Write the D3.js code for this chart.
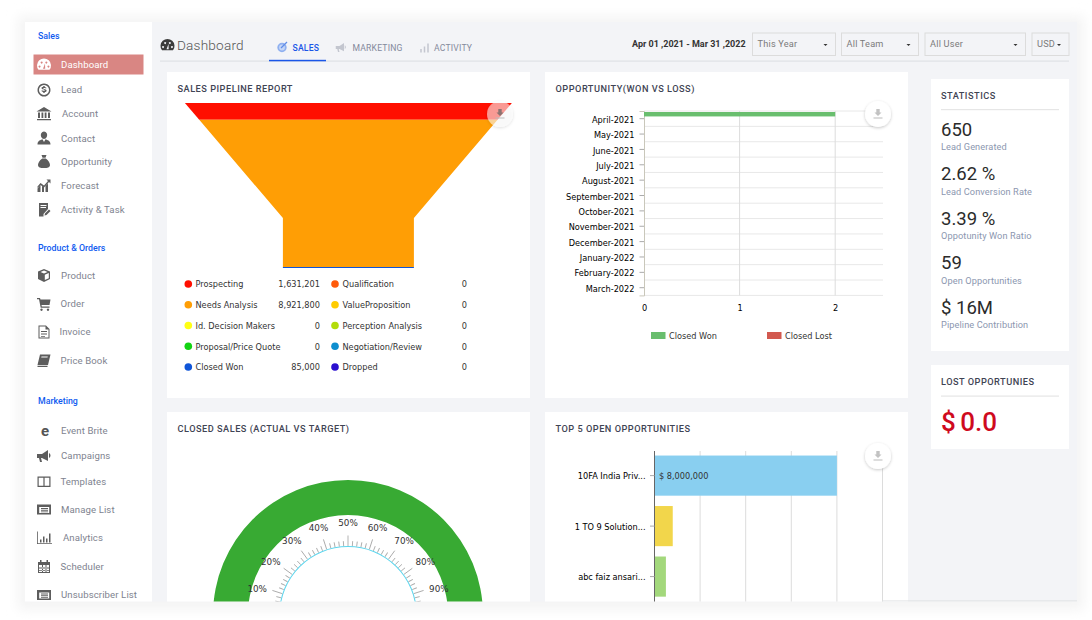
<!DOCTYPE html>
<html>
<head>
<meta charset="utf-8">
<title>Dashboard</title>
<script src="https://cdn.jsdelivr.net/npm/d3@7"></script>
<style>
html, body { margin: 0; padding: 0; background: #fff; overflow: hidden; }
svg { display: block; font-family: Roboto, sans-serif; }
.chartText { font-family: "DejaVu Sans", sans-serif; font-size: 8.2px; fill: #333; }
.cardTitle { font-size: 9.2px; font-weight: 500; letter-spacing: .5px; fill: #3f4454; }
.menu { font-size: 9.6px; fill: #80838f; letter-spacing: .1px; }
.menuHead { font-size: 8.8px; font-weight: 500; fill: #0f5bf0; }
.statVal { font-size: 18.5px; fill: #2b2b2b; }
.statLabel { font-size: 9.2px; fill: #8c97b0; letter-spacing: .1px; }
.axis path { fill: none; }
.axis path, .axis line { stroke: #aaa; }
</style>
</head>
<body>
<svg id="chart" width="1092" height="620"></svg>
<script>
// sidebar
var salesMenu = ["Dashboard", "Lead", "Account", "Contact", "Opportunity", "Forecast", "Activity & Task"];
var productMenu = ["Product", "Order", "Invoice", "Price Book"];
var marketingMenu = ["Event Brite", "Campaigns", "Templates", "Manage List", "Analytics", "Scheduler", "Unsubscriber List"];

// header
var tabs = ["SALES", "MARKETING", "ACTIVITY"];
var dropdowns = ["This Year", "All Team", "All User", "USD"];

// sales pipeline
var stages = ["Prospecting", "Qualification", "Needs Analysis", "ValueProposition", "Id. Decision Makers", "Perception Analysis", "Proposal/Price Quote", "Negotiation/Review", "Closed Won", "Dropped"];
var stageValues = [1631201, 0, 8921800, 0, 0, 0, 0, 0, 85000, 0];
var stageColors = ["#ff0f00", "#ff5a0a", "#ff9e05", "#ffcc00", "#ffff14", "#b3dc0a", "#12d312", "#0d8ecf", "#0f55d8", "#2a0fcf"];
// share of funnel height as drawn, in percent
var funnelStages = ["Prospecting", "Needs Analysis", "Closed Won"];
var funnelShares = [10.2, 89.2, 0.6];

// won vs loss
var months = ["April-2021", "May-2021", "June-2021", "July-2021", "August-2021", "September-2021", "October-2021", "November-2021", "December-2021", "January-2022", "February-2022", "March-2022"];
var closedWon = [2, 0, 0, 0, 0, 0, 0, 0, 0, 0, 0, 0];
var closedLost = [0, 0, 0, 0, 0, 0, 0, 0, 0, 0, 0, 0];

// gauge
var gaugeLabels = [10, 20, 30, 40, 50, 60, 70, 80, 90];
var gaugeValue = 100;

// top open opportunities
var topNames = ["10FA India Priv...", "1 TO 9 Solution...", "abc faiz ansari..."];
var topValues = [8000000, 800000, 500000];
var topColors = ["#89cff0", "#f2d64b", "#a3d87c"];

// statistics
var statValues = ["650", "2.62 %", "3.39 %", "59", "$ 16M"];
var statLabels = ["Lead Generated", "Lead Conversion Rate", "Oppotunity Won Ratio", "Open Opportunities", "Pipeline Contribution"];

var icons = {
	"Dashboard": "M-5.500 4.800A7 7 0 1 1 5.500 4.800ZM-4.500 .5a1 1 0 1 0 .1 0ZM-2.400 -3.500a1 1 0 1 0 .1 0ZM2.300 -3.500a1 1 0 1 0 .1 0ZM4.400 .5a1 1 0 1 0 .1 0ZM-1 3.800L1 -1.500 1.200 3.800Z",
	"Lead": "M0 -6.500A6.500 6.500 0 1 1 -.01 -6.500ZM0 -5A5 5 0 1 0 .01 -5ZM-.7 -4h1.400v1c1 .1 1.700.5 1.800 1.300h-1.400c-.2-.4-1.800-.4-1.800.2 0 .9 3.400.4 3.300 2.200 0 .8-.8 1.200-1.900 1.400V3h-1.400V2c-1.100-.2-1.800-.7-1.900-1.500h1.400c.2.5 2 .5 2-.2 0-.9-3.300-.4-3.300-2.200 0-.8.7-1.200 1.800-1.300Z",
	"Account": "M0 -7L7.500 -2.500H-7.500ZM-6 -1.500H-4V4H-6ZM-2.500 -1.500H-.7V4H-2.500ZM.7 -1.500H2.500V4H.7ZM4 -1.500H6V4H4ZM-7 5H7V6.300H-7Z",
	"Contact": "M0 -7A3.200 3.700 0 1 1 -.01 -7ZM-6.500 6C-6.500 2 -3 1.500 -1.500 .8L0 3.500 1.500 .8C3 1.500 6.500 2 6.500 6Z",
	"Opportunity": "M-2.500 -7L2.500 -7 1.500 -4.300H-1.500ZM-1.800 -3.500H1.800C4.500 -1.500 6 1 6 3 6 5.500 3.500 6 0 6S-6 5.500 -6 3C-6 1 -4.500 -1.500 -1.800 -3.500Z",
	"Forecast": "M-6.500 6V2L-3.500 -1 -3.500 6ZM-2 6V0L0 1.500V6ZM1.500 6V0L4 -2.500V6ZM-6.500 .5L-3.500 -3 0 -.5 4 -5 2.500 -6.500H6.500V-2.500L5 -4 0 1.500 -3.500 -1 -6.500 2.500Z",
	"Activity & Task": "M-5 -7H4V-1L-.5 4V6.500H-5ZM-3.500 -4H2.500V-5H-3.500ZM-3.500 -2H2V-3H-3.500ZM.5 5.500L1 3.500 5 -.5 6.500 1 2.500 5Z",
	"Product": "M0 -6.500L6 -4V3.500L0 6.500 -6 3.500V-4ZM0 -5L-3.500 -3.500 0 -2 3.500 -3.500ZM.8 -.8V4.500L4.800 2.800V-2.500Z",
	"Order": "M-7 -6H-4L-3.500 -4.500H6.500L5.500 1H-2.500L-2.200 2.500H5.500V3.700H-3.300L-5 -4.800H-7ZM-2.500 4.500A1.200 1.200 0 1 1 -2.510 4.500ZM4 4.500A1.200 1.200 0 1 1 3.990 4.500Z",
	"Invoice": "M-5.500 -6.500H2L5.500 -3V6.500H-5.500ZM-4.500 -5.500V5.500H4.500V-2.500H1.500V-5.500ZM-3 -1H3V0H-3ZM-3 1.500H3V2.500H-3ZM-3 4H1V4.700H-3Z",
	"Price Book": "M-4 -6H6.500L4 4.500H-6.500ZM-2.500 -4L-2.800 -3H3.500L3.800 -4ZM-6.500 5.200H3.500V6.500H-6.500Z",
	"Campaigns": "M-7 -2H-2L4 -6V5L-2 2H-3L-2 6H-4L-5 2H-7ZM5 -3C7 -2 7 1 5 2Z",
	"Templates": "M-6.500 -5.500H6.500V5H-6.500ZM-5.300 -4.300V3.800H-.6V-4.300ZM.6 -4.300V3.800H5.300V-4.300Z",
	"Manage List": "M-7 -5H7V5H-7ZM-4.800 -2.500V3.500H5.200V-2.500ZM-3 -1.500H4V-.6H-3ZM-3 .3H4V1.200H-3ZM-3 2H4V2.800H-3Z",
	"Analytics": "M-7 -6.500H-6.200V5.200H8V6H-7ZM-4 1.500H-2.500V4.500H-4ZM-1 -1.500H.5V4.500H-1ZM2 .5H3.500V4.500H2ZM5 -4.500H6.500V4.500H5Z",
	"Scheduler": "M-6 -4.500H-4V-6.500H-2.500V-4.500H2.500V-6.500H4V-4.500H6V6.500H-6ZM-5 -1.500V5.500H5V-1.500ZM-2 -1.500H-1V5.500H-2ZM1.500 -1.500H2.500V5.500H1.500ZM-5 1H5V2H-5ZM-5 3.500H5V4.300H-5Z",
	"Unsubscriber List": "M-7 -5H7V5H-7ZM-4.800 -2.500V3.500H5.200V-2.500ZM-3 -1.500H4V-.6H-3ZM-3 .3H4V1.200H-3ZM-3 2H4V2.800H-3Z"
};

// labels that sit a little off the menu's text column
var menuShift = { "Account": 1, "Invoice": -1.500, "Analytics": 2, "Order": -.5, "Price Book": -.5, "Templates": -.5, "Scheduler": -.5 };

var svg = d3.select("#chart");
var defs = svg.append("defs");

var blur = defs.append("filter").attr("id", "blur").attr("x", "-5%").attr("y", "-5%").attr("width", "110%").attr("height", "110%");
blur.append("feGaussianBlur").attr("stdDeviation", 6);
var soft = defs.append("filter").attr("id", "soft").attr("x", "-40%").attr("y", "-40%").attr("width", "180%").attr("height", "180%");
soft.append("feDropShadow").attr("dx", 0).attr("dy", 1).attr("stdDeviation", 1.500).attr("flood-color", "#000").attr("flood-opacity", .22);
defs.append("clipPath").attr("id", "appClip").append("rect").attr("x", 25).attr("y", 22).attr("width", 1052).attr("height", 579.500);

svg.append("rect").attr("x", 18).attr("y", 16).attr("width", 1066).attr("height", 594).attr("fill", "#f4f4f4").attr("filter", "url(#blur)");

var app = svg.append("g").attr("clip-path", "url(#appClip)");
app.append("rect").attr("x", 25).attr("y", 22).attr("width", 1052).attr("height", 580).attr("fill", "#f3f4f7");

function card(x, y, w, h) {
	app.append("rect").attr("x", x).attr("y", y).attr("width", w).attr("height", h).attr("fill", "#fff");
}

function title(text, x, y) {
	app.append("text").attr("class", "cardTitle").attr("x", x).attr("y", y).text(text);
}

// Sidebar
card(25, 22, 127, 580);
app.append("rect").attr("x", 33.500).attr("y", 54.500).attr("width", 110).attr("height", 20).attr("fill", "#d98683");

function menuBlock(head, headY, items, ys) {
	app.append("text").attr("class", "menuHead").attr("x", 38).attr("y", headY).text(head);
	var row = app.selectAll(null).data(items).enter().append("g")
		.attr("transform", function(d, i) { return "translate(0," + ys[i] + ")"; });
	row.filter(function(d) { return icons[d]; }).append("path")
		.attr("transform", "translate(44,0)")
		.attr("d", function(d) { return icons[d]; })
		.attr("fill-rule", "evenodd")
		.attr("fill", function(d) { return d == "Dashboard" ? "#fff" : "#5d5d5d"; });
	row.append("text").attr("class", "menu").attr("x", function(d) { return 61 + (menuShift[d] || 0); }).attr("dy", "0.35em")
		.style("fill", function(d) { return d == "Dashboard" ? "#fff" : null; })
		.text(function(d) { return d; });
}

menuBlock("Sales", 39, salesMenu, [65, 90, 114, 138.500, 162, 186, 210]);
menuBlock("Product & Orders", 251, productMenu, [275.500, 304, 332, 360.500]);
menuBlock("Marketing", 404, marketingMenu, [431, 456, 482, 509.500, 538, 566.500, 595]);
app.append("text").attr("x", 45).attr("y", 435.500).attr("text-anchor", "middle")
	.attr("font-size", 15).attr("font-weight", 700).attr("fill", "#555").text("e");

// Header
app.append("path").attr("transform", "translate(167.500,45.500)").attr("d", icons["Dashboard"]).attr("fill-rule", "evenodd").attr("fill", "#3c3c3c");
app.append("text").attr("x", 177).attr("y", 50).attr("font-size", 13.600).attr("font-weight", 300).attr("letter-spacing", .2).attr("fill", "#555").text("Dashboard");
app.append("rect").attr("x", 160).attr("y", 60.500).attr("width", 909).attr("height", 1.200).attr("fill", "#dfe1e5");
app.append("rect").attr("x", 269).attr("y", 59.800).attr("width", 57).attr("height", 1.500).attr("fill", "#1a56e8");

var tabX = [292.500, 352.500, 434];
app.selectAll(null).data(tabs).enter().append("text")
	.attr("x", function(d, i) { return tabX[i]; }).attr("y", 50.500)
	.attr("font-size", 8.600).attr("letter-spacing", .2)
	.attr("font-weight", function(d, i) { return i == 0 ? 500 : 400; })
	.attr("fill", function(d, i) { return i == 0 ? "#1a56e8" : "#848a9c"; })
	.text(function(d) { return d; });
// tab icons
app.append("circle").attr("cx", 282).attr("cy", 47.500).attr("r", 3.800).attr("fill", "#c5d6f7").attr("stroke", "#8fb0f0").attr("stroke-width", 1.800);
app.append("path").attr("d", "M281 48L287 42").attr("stroke", "#5f8ce8").attr("stroke-width", 1.200);
app.append("path").attr("transform", "translate(341,47.500) scale(.75)").attr("d", icons["Campaigns"]).attr("fill", "#c3c6cf");
app.append("path").attr("d", "M421 52.500V49M424.500 52.500V46.500M428 52.500V43.500").attr("stroke", "#c3c6cf").attr("stroke-width", 1.500);

app.append("text").attr("x", 632).attr("y", 47).attr("font-size", 9).attr("font-weight", 700).attr("fill", "#333").text("Apr 01 ,2021 - Mar 31 ,2022");

var ddX = [752.500, 841.500, 925, 1032];
var ddW = [83, 77, 100.500, 37];
var dd = app.selectAll(null).data(dropdowns).enter().append("g")
	.attr("transform", function(d, i) { return "translate(" + ddX[i] + ",33)"; });
dd.append("rect").attr("width", function(d, i) { return ddW[i]; }).attr("height", 22.500).attr("fill", "#f3f4f7").attr("stroke", "#dcdcdc");
dd.append("text").attr("x", 5).attr("y", 14).attr("font-size", 9.200).attr("letter-spacing", .2).attr("fill", "#7b7b7b").text(function(d) { return d; });
dd.append("path").attr("transform", function(d, i) { return "translate(" + (ddW[i] - 10) + ",11)"; }).attr("d", "M-2 0H2L0 2Z").attr("fill", "#333");

// Cards
card(167, 72, 363, 326);
card(545, 72, 363, 326);
card(167, 412, 363, 200);
card(545, 412, 363, 200);
card(931, 79, 138, 272);
card(931, 365, 138, 84);

title("SALES PIPELINE REPORT", 177.500, 91.500);
title("OPPORTUNITY(WON VS LOSS)", 555.500, 91.500);
title("CLOSED SALES (ACTUAL VS TARGET)", 177.500, 432);
title("TOP 5 OPEN OPPORTUNITIES", 555.500, 432);

// Funnel
var funnelY = d3.scaleLinear().domain([0, 100]).range([103, 268]);
var funnelCx = 348.400, neckY = 218;
var funnelW = d3.scaleLinear().domain([103, neckY]).range([327, 131]).clamp(true);
var funnelLine = d3.line();
var acc = 0;
funnelShares.forEach(function(s, i) {
	var y0 = funnelY(acc), y1 = funnelY(acc + s);
	acc += s;
	var ys = [y0];
	if (y0 < neckY && y1 > neckY) ys.push(neckY);
	ys.push(y1);
	var left = ys.map(function(y) { return [funnelCx - funnelW(y) / 2, y]; });
	var right = ys.map(function(y) { return [funnelCx + funnelW(y) / 2, y]; }).reverse();
	app.append("path").attr("d", funnelLine(left.concat(right)) + "Z")
		.attr("fill", stageColors[stages.indexOf(funnelStages[i])]);
});

// Funnel legend, two columns
var legendRow = d3.scalePoint().domain(d3.range(5)).range([284, 367]);
var legendCols = [{ dot: 188.300, label: 195.500, value: 320 }, { dot: 335, label: 342.500, value: 467 }];
var numFmt = d3.format(",");
var legend = app.selectAll(null).data(stages).enter().append("g")
	.attr("transform", function(d, i) { return "translate(0," + legendRow(Math.floor(i / 2)) + ")"; });
legend.append("circle").attr("r", 3.800).attr("cx", function(d, i) { return legendCols[i % 2].dot; })
	.attr("fill", function(d, i) { return stageColors[i]; });
legend.append("text").attr("class", "chartText").attr("dy", "0.4em").attr("x", function(d, i) { return legendCols[i % 2].label; })
	.text(function(d) { return d; });
legend.append("text").attr("class", "chartText").attr("dy", "0.4em").attr("text-anchor", "end").attr("x", function(d, i) { return legendCols[i % 2].value; })
	.text(function(d, i) { return numFmt(stageValues[i]); });

// Won vs loss
var oppX = d3.scaleLinear().domain([0, 2.500]).range([644, 883]);
var oppY = d3.scaleBand().domain(months).range([111, 295.400]);
var oppSub = d3.scaleBand().domain(["won", "lost"]).range([1, oppY.bandwidth() - 5.500]);

var oppGrid = app.append("g");
oppGrid.selectAll(null).data(months).enter().append("line")
	.attr("x1", 644).attr("x2", 883)
	.attr("y1", function(d) { return oppY(d) + oppY.bandwidth(); }).attr("y2", function(d) { return oppY(d) + oppY.bandwidth(); })
	.attr("stroke", "#e8e8e8");
oppGrid.append("line").attr("x1", 644).attr("x2", 883).attr("y1", 111).attr("y2", 111).attr("stroke", "#e8e8e8");
oppGrid.selectAll(null).data([1, 2]).enter().append("line")
	.attr("x1", oppX).attr("x2", oppX).attr("y1", 111).attr("y2", 295.400).attr("stroke", "#dcdcdc");

var oppXAxis = d3.axisBottom(oppX).tickValues([0, 1, 2]).tickSize(0).tickPadding(10).tickFormat(d3.format("d"));
var oppYAxis = d3.axisLeft(oppY).tickSize(4.500).tickPadding(5);
app.append("g").attr("class", "axis chartText").attr("transform", "translate(0,295.400)").call(oppXAxis).call(function(g) { g.select(".domain").remove(); });
app.append("g").attr("class", "axis chartText").attr("transform", "translate(644,0)").call(oppYAxis)
	.call(function(g) { g.selectAll("text").attr("dy", "0.5em"); g.select(".domain").style("stroke", "#c9c7ba"); });

app.selectAll(null).data(months).enter().append("rect")
	.attr("x", 644).attr("y", function(d) { return oppY(d) + oppSub("won"); })
	.attr("width", function(d, i) { return oppX(closedWon[i]) - oppX(0); }).attr("height", oppSub.bandwidth())
	.attr("fill", "#69be6e");
app.selectAll(null).data(months).enter().append("rect")
	.attr("x", 644).attr("y", function(d) { return oppY(d) + oppSub("lost"); })
	.attr("width", function(d, i) { return oppX(closedLost[i]) - oppX(0); }).attr("height", oppSub.bandwidth())
	.attr("fill", "#d2594f");

var oppLegend = [["Closed Won", "#69be6e", 651], ["Closed Lost", "#d2594f", 767]];
oppLegend.forEach(function(l) {
	app.append("rect").attr("x", l[2]).attr("y", 332).attr("width", 14.500).attr("height", 7).attr("fill", l[1]);
	app.append("text").attr("class", "chartText").attr("x", l[2] + 18).attr("y", 335.700).attr("dy", "0.4em").text(l[0]);
});

// Gauge
var gaugeCx = 348, gaugeCy = 615;
var gaugeA = d3.scaleLinear().domain([0, 100]).range([-Math.PI / 2, Math.PI / 2]);
var gaugeG = app.append("g").attr("transform", "translate(" + gaugeCx + "," + gaugeCy + ")");
gaugeG.append("path").attr("fill", "#38aa33")
	.attr("d", d3.arc().innerRadius(100).outerRadius(135).startAngle(gaugeA(0)).endAngle(gaugeA(gaugeValue))());
gaugeG.append("path").attr("fill", "#5cd6ee")
	.attr("d", d3.arc().innerRadius(68).outerRadius(69).startAngle(gaugeA(0)).endAngle(gaugeA(100))());
gaugeG.selectAll(null).data(d3.range(0, 101, 2)).enter().append("line")
	.attr("stroke", "#aaa").attr("stroke-width", .9)
	.attr("transform", function(d) { return "rotate(" + (gaugeA(d) * 180 / Math.PI) + ")"; })
	.attr("y1", -69).attr("y2", function(d) { return d % 10 == 0 ? -79.500 : -74; });
gaugeG.selectAll(null).data(gaugeLabels).enter().append("text")
	.attr("class", "chartText").attr("text-anchor", "middle").attr("dy", "0.35em").style("font-size", "8.800px")
	.attr("x", function(d) { return 95.500 * Math.sin(gaugeA(d)); })
	.attr("y", function(d) { return 3 - 95 * Math.cos(gaugeA(d)); })
	.text(function(d) { return d + "%"; });

// Top open opportunities
var topX = d3.scaleLinear().domain([0, 10000000]).range([654.500, 882.500]);
var topY = d3.scaleBand().domain(topNames).range([450.500, 601.700]).paddingInner(.205).paddingOuter(.1);

app.selectAll(null).data(d3.range(2000000, 10000001, 2000000)).enter().append("line")
	.attr("x1", topX).attr("x2", topX).attr("y1", 451).attr("y2", 612).attr("stroke", "#dcdcdc");

app.selectAll(null).data(topNames).enter().append("rect")
	.attr("x", topX(0)).attr("y", function(d) { return topY(d); })
	.attr("width", function(d, i) { return topX(topValues[i]) - topX(0); }).attr("height", topY.bandwidth())
	.attr("fill", function(d, i) { return topColors[i]; });

var topAxis = d3.axisLeft(topY).tickSize(4.500).tickPadding(4.500);
app.append("g").attr("class", "axis chartText").attr("transform", "translate(654.500,0)").call(topAxis)
	.call(function(g) { g.selectAll("text").attr("dy", "0.45em"); g.select(".domain").attr("d", "M0 451V612").style("stroke", "#666"); });

app.append("text").attr("class", "chartText").attr("x", 659).attr("y", topY(topNames[0]) + topY.bandwidth() / 2).attr("dy", "0.4em")
	.text("$ " + numFmt(topValues[0]));

// Download buttons
function downloadBtn(x, y, bg, op) {
	var b = app.append("g").attr("transform", "translate(" + x + "," + y + ")");
	b.append("circle").attr("r", 13).attr("fill", bg).attr("filter", "url(#soft)");
	b.append("path").attr("d", "M-1.700 -5H1.700V-1.500H3.500L0 2 -3.500 -1.500H-1.700Z").attr("fill", "#666").attr("opacity", op);
	b.append("rect").attr("x", -4.500).attr("y", 3.500).attr("width", 9).attr("height", 1).attr("fill", "#bbb");
}
downloadBtn(500, 114, "rgba(255,255,255,.55)", .75);
downloadBtn(878, 114, "#fff", .4);
downloadBtn(878, 456, "#fff", .4);

// Statistics
title("STATISTICS", 941, 99);
app.append("rect").attr("x", 941).attr("y", 109).attr("width", 118).attr("height", 1.200).attr("fill", "#e6e6e6");
var statY = d3.scalePoint().domain(statValues).range([135.500, 313.500]);
app.selectAll(null).data(statValues).enter().append("text")
	.attr("class", "statVal").attr("x", 941).attr("y", function(d) { return statY(d); }).text(function(d) { return d; });
app.selectAll(null).data(statLabels).enter().append("text")
	.attr("class", "statLabel").attr("x", 941).attr("y", function(d, i) { return statY(statValues[i]) + 14.500; }).text(function(d) { return d; });

title("LOST OPPORTUNIES", 941, 385);
app.append("rect").attr("x", 941).attr("y", 395.500).attr("width", 118).attr("height", 1.200).attr("fill", "#e6e6e6");
app.append("text").attr("x", 941).attr("y", 430.500).attr("font-size", 26).attr("font-weight", 500).attr("word-spacing", -2).attr("fill", "#cf0a1e").text("$ 0.0");

// hairline along the bottom of the panel, right of the last card
app.append("rect").attr("x", 882).attr("y", 600.500).attr("width", 195).attr("height", 1).attr("fill", "#dcdde0");
</script>
</body>
</html>
